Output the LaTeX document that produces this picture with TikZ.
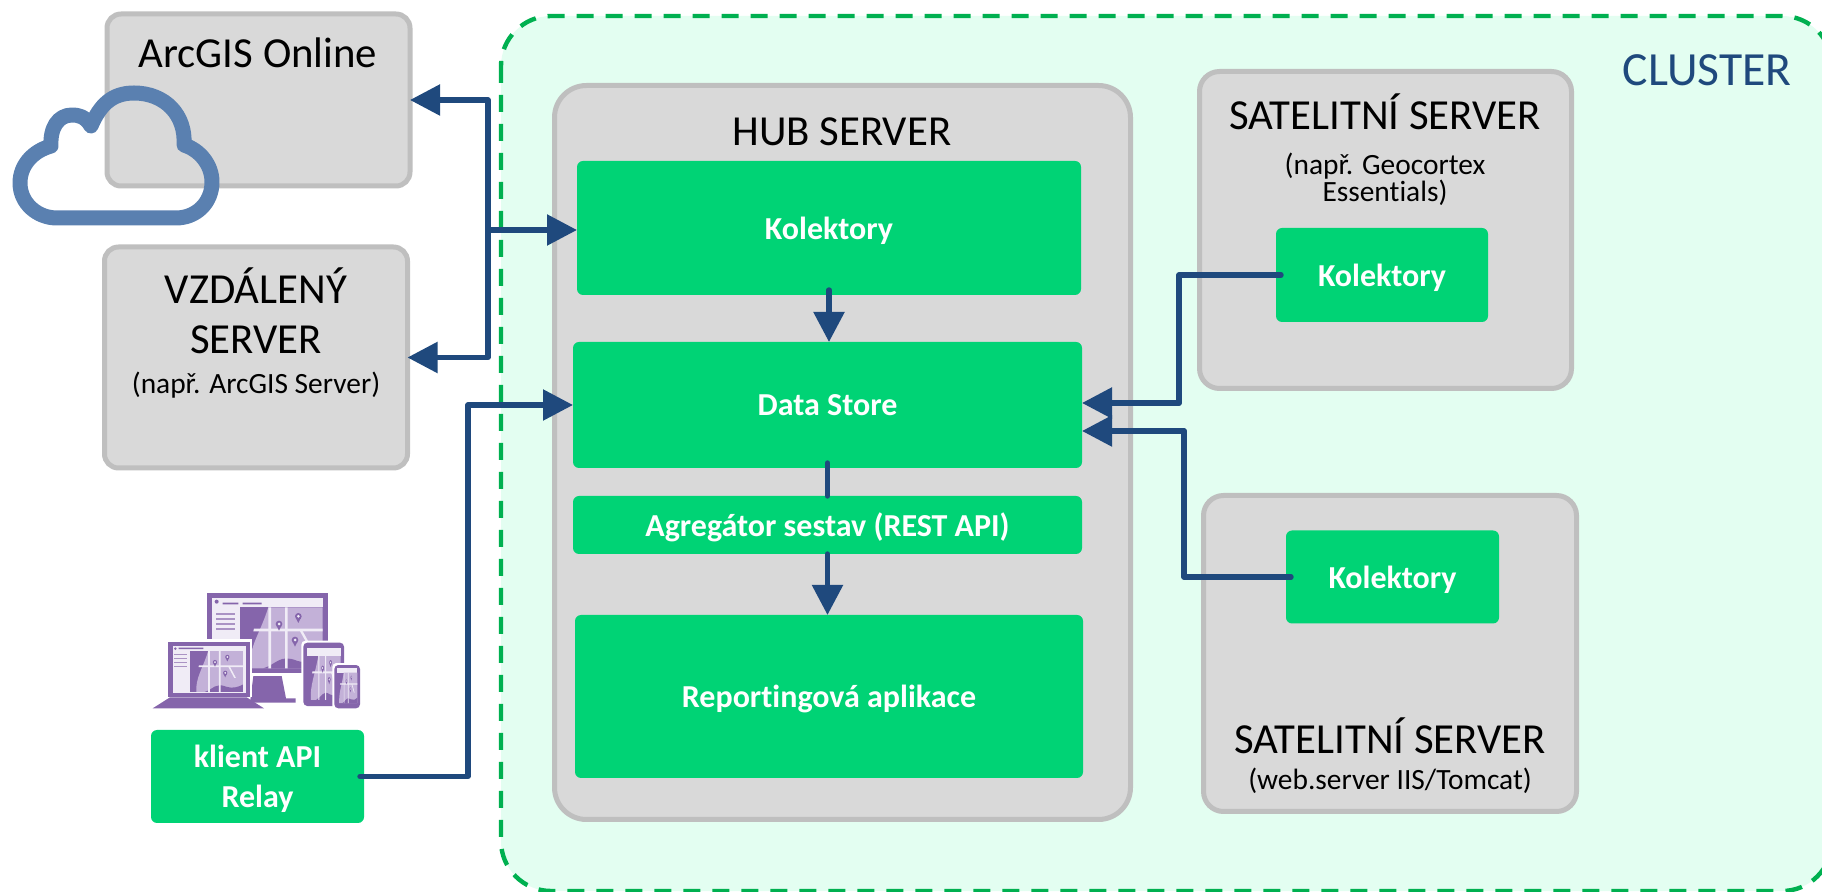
\documentclass[tikz,border=0pt]{standalone}
\usepackage{fontspec}
\setmainfont[Ligatures=NoCommon]{Carlito}
\usetikzlibrary{arrows.meta}
\definecolor{clusterfill}{HTML}{E3FEF1}
\definecolor{clusterline}{HTML}{00B050}
\definecolor{srvfill}{HTML}{D9D9D9}
\definecolor{srvline}{HTML}{BFBFBF}
\definecolor{modfill}{HTML}{00D375}
\definecolor{wireblue}{HTML}{1F497D}
\definecolor{cloudblue}{HTML}{5A80B0}
\definecolor{iconDark}{HTML}{8565AB}
\definecolor{iconMid}{HTML}{C3B1D8}
\definecolor{iconPale}{HTML}{F0ECF6}
\tikzset{
    sz/.style 2 args = {minimum width=#1*0.5pt, minimum height=#2*0.5pt, inner sep=0pt, outer sep=0pt},
    srv/.style = {draw=srvline, fill=srvfill, line width=2.5pt, rounded corners=#1},
    srv/.default = 7pt,
    modul/.style = {fill=modfill, rounded corners=3pt, text=white, font=\fontsize{16}{19}\selectfont\bfseries, align=center, text depth=0pt},
    head/.style = {font=\fontsize{21.4}{25}\selectfont, align=center, inner sep=0pt},
    note/.style = {font=\fontsize{14.7}{14}\selectfont, align=center, inner sep=0pt},
    wire/.style = {draw=wireblue, line width=2.7pt, line join=round, line cap=round},
    arr/.style = {wire, -{Triangle[length=15pt, width=15pt]}},
    pics/mapview/.style = {code = {
        \fill[iconDark] (0,0) rectangle (248,183);
        \fill[iconMid] (85,0) -- (248,0) -- (248,183) -- (30,183) .. controls (25,120) and (60,80) .. (85,0);
        \fill[iconDark] (70,183) .. controls (110,170) and (120,140) .. (170,160) .. controls (200,170) and (230,160) .. (248,150) -- (248,183) -- cycle;
        \fill[iconPale] (85,0) rectangle (93,183) (135,0) rectangle (143,183);
        \fill[iconPale] (42,64) -- (248,64) -- (248,72) -- (40,72) -- cycle;
        \fill[iconPale] (178,68) -- (186,68) -- (215,120) -- (207,120) -- cycle;
        \foreach \pinx/\piny in {117/50, 175/27, 165/98} {
            \fill[iconDark] (\pinx,\piny) circle (10);
            \fill[iconDark] (\pinx-7,\piny+6) -- (\pinx+7,\piny+6) -- (\pinx,\piny+20) -- cycle;
            \fill[iconPale] (\pinx,\piny) circle (4.5);
        }
    }},
}

\begin{document}
\begin{tikzpicture}[x=0.5pt, y=-0.5pt]
    \clip (0,0) rectangle (1822,892);

    % cluster
    \draw[fill=clusterfill, draw=clusterline, line width=2.2pt, dash pattern=on 8.5pt off 6pt, rounded corners=25pt] (501,16) rectangle (1832,891);
    \node[text=wireblue, font=\fontsize{23.8}{25}\selectfont, inner sep=0pt] (clustertxt) at (1707,70) {CLUSTER};

    % servers
    \node[srv, sz={303}{172}] (arcgis) at (258.5,100) {};
    \node[head] (arcgistxt) at (258,53) {ArcGIS Online};
    \node[srv, sz={303}{221}] (remote) at (256,357.5) {};
    \node[head] (remotetxt) at (256,311) {VZDÁLENÝ\\SERVER};
    \node[note] (remotenote) at (256,385) {(např. ArcGIS Server)};

    \node[srv=16pt, sz={576}{734}] (hub) at (842.5,452.5) {};
    \node[head] (hubtxt) at (842,132) {HUB SERVER};
    \node[modul, sz={504}{134}] (kolhub) at (829,228) {Kolektory};
    \node[modul, sz={509}{126}] (store) at (827.5,405) {Data Store};
    \node[modul, sz={509}{58}] (aggr) at (827.5,525) {Agregátor sestav (REST API)};
    \node[modul, sz={508}{163}] (report) at (829,696.5) {Reportingová aplikace};

    \node[srv=10pt, sz={372}{317}] (satone) at (1385.5,230) {};
    \node[head] (satonetxt) at (1385,112) {SATELITNÍ SERVER};
    \node[note, font=\fontsize{14.7}{13.6}\selectfont] (satonenote) at (1385,179) {(např. Geocortex\\Essentials)};
    \node[modul, sz={212}{94}] (kolone) at (1382,275) {Kolektory};

    \node[srv=10pt, sz={373}{316}] (sattwo) at (1390,653.5) {};
    \node[head] (sattwotxt) at (1390,736) {SATELITNÍ SERVER};
    \node[note] (sattwonote) at (1390,781) {(web.server IIS/Tomcat)};
    \node[modul, sz={213}{93}] (koltwo) at (1392.5,577) {Kolektory};

    \node[modul, sz={213}{93}, font=\fontsize{16}{20}\selectfont\bfseries] (client) at (257.5,776.5) {klient API\\Relay};

    % cloud
    \draw[draw=cloudblue, line width=7.5pt, line join=round] (91,126) .. controls (85,116) and (78,115) .. (72,115)
        .. controls (58,115) and (50,128) .. (51,146) .. controls (33,151) and (20,165) .. (20,183)
        .. controls (20,203) and (37,218) .. (57,218) -- (176,218) .. controls (196,218) and (212,203) .. (212,182)
        .. controls (212,165) and (200,150) .. (184,145) .. controls (186,115) and (165,93) .. (134,93)
        .. controls (112,93) and (100,105) .. (91,126) -- cycle;

    % devices
    \begin{scope}[shift={(130,570)}, x=0.16667pt, y=-0.16667pt]
        \fill[iconDark] (232,70) rectangle (595,310);
        \fill[iconPale] (247,85) rectangle (578,295);
        \pic at (330,112) {mapview};
        \fill[iconDark] (260,95) circle (6) (278,98) rectangle (325,103) (338,98) rectangle (395,103);
        \foreach \liney in {128,143,158,173} \fill[iconDark!70] (258,\liney) rectangle (315,\liney+6);
        \fill[iconDark] (370,318) -- (455,318) -- (468,385) -- (497,385) -- (497,398) -- (360,398) -- cycle;

        \fill[white] (108,208) rectangle (367,382);
        \fill[iconDark] (115,215) rectangle (360,380);
        \fill[iconPale] (128,228) rectangle (348,368);
        \pic[xscale=0.64, yscale=0.67] at (180,243) {mapview};
        \fill[iconDark] (136,236) circle (4) (146,233) rectangle (220,237);
        \foreach \liney in {252,264,276,287} \fill[iconDark!70] (133,\liney) rectangle (170,\liney+4);
        \fill[iconDark] (120,382) -- (350,382) -- (402,415) -- (68,415) -- cycle;

        \fill[white, rounded corners=2pt] (514,212) rectangle (648,414);
        \fill[iconDark, rounded corners=2pt] (520,218) rectangle (642,408);
        \fill[iconPale] (530,235) rectangle (632,258);
        \pic[xscale=0.41, yscale=0.72] at (530,258) {mapview};

        \fill[white, rounded corners=2pt] (607,279) rectangle (696,421);
        \fill[iconDark, rounded corners=2pt] (613,285) rectangle (690,415);
        \fill[iconPale] (620,295) rectangle (682,308);
        \pic[xscale=0.25, yscale=0.5] at (620,308) {mapview};
    \end{scope}

    % connectors
    \coordinate (busleft) at (488,230);
    \coordinate (busclient) at (468,600);
    \coordinate (busone) at (1179,403);
    \coordinate (bustwo) at (1184,431);
    \draw[arr] (busleft) |- (arcgis.east);
    \draw[arr] (busleft) |- (remote.east);
    \draw[arr] (busleft) -- (busleft -| kolhub.west);
    \draw[arr] ([xshift=-2pt]client.east) -| (busclient) |- (store.west);
    \draw[wire] ([xshift=2.5pt]kolone.west) -| (busone);
    \draw[arr] (busone) -- (busone -| store.east);
    \draw[wire] ([xshift=2.5pt]koltwo.west) -| (bustwo);
    \draw[arr] (bustwo) -- (bustwo -| store.east);
    \draw[arr] ([yshift=2.5pt]kolhub.south) -- (kolhub.south |- store.north);
    \draw[wire] ([yshift=2.5pt]store.south) -- (aggr.north);
    \draw[arr] (aggr.south) -- (aggr.south |- report.north);
\end{tikzpicture}
\end{document}
